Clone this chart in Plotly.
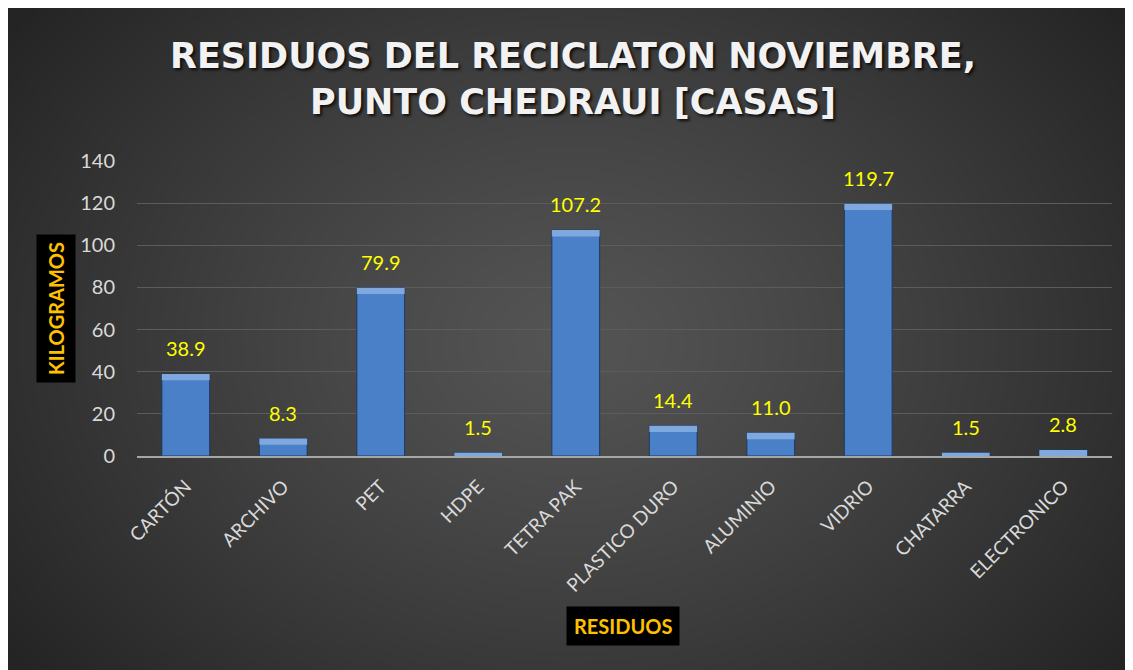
import zlib, struct, base64
import numpy as np
import plotly.graph_objects as go

categorias = ["CARTÓN", "ARCHIVO", "PET", "HDPE", "TETRA PAK", "PLASTICO DURO",
              "ALUMINIO", "VIDRIO", "CHATARRA", "ELECTRONICO"]
kilogramos = [38.9, 8.3, 79.9, 1.5, 107.2, 14.4, 11.0, 119.7, 1.5, 2.8]
etiquetas = [f"{v:.1f}" for v in kilogramos]
titulo = "<b>RESIDUOS DEL RECICLATON NOVIEMBRE,<br>PUNTO CHEDRAUI [CASAS]</b>"

# ---- radial gradient background as PNG ----
def make_png(arr):
    h, w, _ = arr.shape
    raw = b"".join(b"\x00" + arr[i].tobytes() for i in range(h))
    def chunk(t, d):
        c = struct.pack(">I", len(d)) + t + d
        return c + struct.pack(">I", zlib.crc32(t + d) & 0xffffffff)
    png = b"\x89PNG\r\n\x1a\n"
    png += chunk(b"IHDR", struct.pack(">IIBBBBB", w, h, 8, 2, 0, 0, 0))
    png += chunk(b"IDAT", zlib.compress(raw, 9))
    png += chunk(b"IEND", b"")
    return "data:image/png;base64," + base64.b64encode(png).decode()

W, H = 400, 236
yy, xx = np.mgrid[0:H, 0:W].astype(float)
cx, cy = 0.50 * W, 0.50 * H
d = np.sqrt(((xx - cx) / (W * 0.62)) ** 2 + ((yy - cy) / (H * 0.80)) ** 2)
d = np.clip(d, 0, 1)
val = 84 - (84 - 36) * d ** 1.2
arr = np.repeat(np.round(val).astype(np.uint8)[:, :, None], 3, axis=2)
bg_src = make_png(np.ascontiguousarray(arr))

# figure coordinates (page has an 8px body margin)
FIG_W, FIG_H = 1125, 662
L, R, T, B = 129, 21, 153, 214
PW, PH = FIG_W - L - R, FIG_H - T - B

def px(xf):
    return (xf - L) / PW

def py(yf):
    return 1 - (yf - T) / PH

bevel = [min(v, 3.0) for v in kilogramos]
bevel_base = [v - b for v, b in zip(kilogramos, bevel)]

fig = go.Figure()
fig.add_trace(go.Bar(
    x=categorias, y=kilogramos, width=0.49,
    marker=dict(color="#4a80c8", line=dict(color="#1f3a60", width=1)),
    hoverinfo="skip",
))
fig.add_trace(go.Bar(
    x=categorias, y=bevel, base=bevel_base, width=0.49,
    marker=dict(color="#7fa8df", line=dict(color="#1f3a60", width=0)),
    hoverinfo="skip",
))

for c, v, t in zip(categorias, kilogramos, etiquetas):
    fig.add_annotation(x=c, y=v, text=t, showarrow=False, yanchor="bottom",
                       yshift=12, font=dict(family="Lato", size=20, color="#ffff00"))

fig.add_annotation(xref="paper", yref="paper", x=px(565), y=py(71),
                   text=titulo, showarrow=False, xanchor="center", yanchor="middle",
                   font=dict(family="DejaVu Sans", size=35, color="#f2f2f2",
                             shadow="2px 2px 3px rgba(0,0,0,0.8)"))

fig.add_annotation(xref="paper", yref="paper", x=px(615), y=py(618),
                   text="<b>RESIDUOS</b>", showarrow=False, bgcolor="black",
                   xanchor="center", yanchor="middle", borderpad=7,
                   font=dict(family="Lato", size=20, color="#ffc000"))
fig.add_annotation(xref="paper", yref="paper", x=px(48), y=py(301),
                   text="<b>KILOGRAMOS</b>", showarrow=False, bgcolor="black", textangle=-90,
                   xanchor="center", yanchor="middle", borderpad=7,
                   font=dict(family="Lato", size=20, color="#ffc000"))

fig.add_layout_image(dict(
    source=bg_src, xref="paper", yref="paper",
    x=px(0), y=py(0), sizex=FIG_W / PW, sizey=FIG_H / PH,
    xanchor="left", yanchor="top", sizing="stretch", layer="below",
))

fig.update_layout(
    width=FIG_W, height=FIG_H,
    margin=dict(l=L, r=R, t=T, b=B),
    paper_bgcolor="white", plot_bgcolor="rgba(0,0,0,0)",
    barmode="overlay", showlegend=False,
    xaxis=dict(showgrid=False, showline=True, linecolor="#a6a6a6", linewidth=2,
               tickangle=-45, ticks="", ticklabelstandoff=10,
               tickfont=dict(family="Lato", size=19, color="#d9d9d9")),
    yaxis=dict(range=[0, 140], dtick=20, showgrid=True, gridcolor="#5c5c5c", gridwidth=1,
               zeroline=False, showline=False, ticks="", ticklabelstandoff=21,
               tickfont=dict(family="Lato", size=20, color="#d9d9d9")),
)

fig.write_html("out.html")
